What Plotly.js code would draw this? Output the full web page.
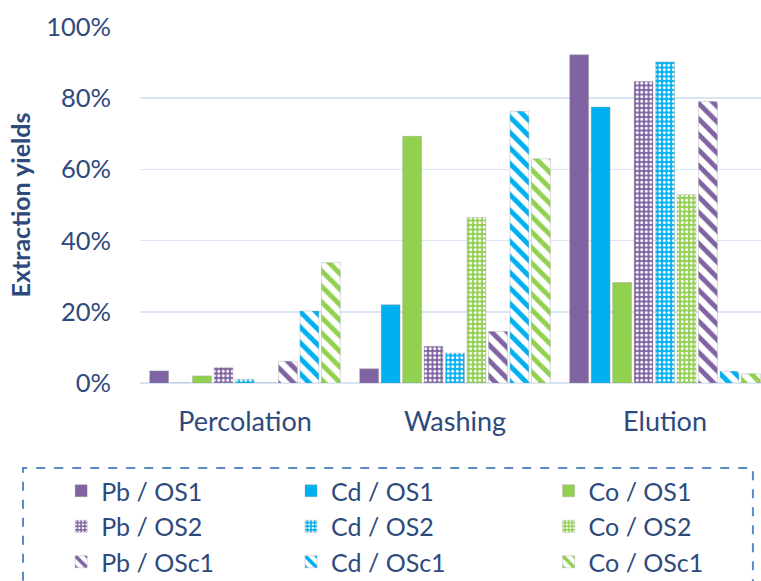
<!DOCTYPE html>
<html>
<head>
<meta charset="utf-8">
<script src="https://cdn.plot.ly/plotly-3.0.1.min.js"></script>
<style>html,body{margin:0;padding:0;background:#fff;}#chart{width:761px;height:581px;}</style>
</head>
<body>
<div id="chart"></div>
<script>
// Data (extraction yields, %)
const categories = ["Percolation", "Washing", "Elution"];
const seriesNames = ["Pb / OS1", "Cd / OS1", "Co / OS1", "Pb / OS2", "Cd / OS2", "Co / OS2", "Pb / OSc1", "Cd / OSc1", "Co / OSc1"];
const pbOS1  = [3.4, 4.0, 92.2];
const cdOS1  = [0.0, 22.0, 77.5];
const coOS1  = [2.0, 69.3, 28.2];
const pbOS2  = [4.3, 10.3, 84.7];
const cdOS2  = [1.0, 8.4, 90.2];
const coOS2  = [0.0, 46.5, 52.9];
const pbOSc1 = [6.1, 14.5, 79.1];
const cdOSc1 = [20.2, 76.3, 3.3];
const coOSc1 = [33.8, 63.0, 2.6];
const yTicks = [0, 20, 40, 60, 80, 100];
const yTickLabels = ["0%", "20%", "40%", "60%", "80%", "100%"];

const seriesValues = [pbOS1, cdOS1, coOS1, pbOS2, cdOS2, coOS2, pbOSc1, cdOSc1, coOSc1];
const metalColors = {Pb: "#8064A2", Cd: "#00B0F0", Co: "#92D050"};
const legendFor = {Pb: "legend", Cd: "legend2", Co: "legend3"};
const textColor = "#2E4A7D";
const font = "Lato, 'Open Sans', sans-serif";

const traces = seriesNames.map((name, i) => {
  const metal = name.split(" ")[0];
  const kind = name.split("/ ")[1];
  const col = metalColors[metal];
  let pattern;
  if (kind === "OS1") pattern = {shape: ""};
  else if (kind === "OS2") pattern = {shape: ".", fgcolor: "#ffffff", bgcolor: col, size: 4.5, solidity: 0.35, fillmode: "replace"};
  else pattern = {shape: "\\", fgcolor: col, bgcolor: "#ffffff", size: 11, solidity: 0.45, fillmode: "replace"};
  return {
    type: "bar",
    name: name,
    x: categories,
    y: seriesValues[i],
    legend: legendFor[metal],
    legendgroup: name,
    marker: {color: col, pattern: pattern, line: {color: "rgba(150,150,150,0.35)", width: 1}},
    hoverinfo: "skip"
  };
});

const legendCommon = {
  orientation: "v",
  xanchor: "left",
  yanchor: "top",
  y: -0.2388,
  bgcolor: "rgba(0,0,0,0)",
  tracegroupgap: 0,
  font: {family: font, size: 25, color: textColor},
  itemwidth: 30
};

const layout = {
  width: 761,
  height: 581,
  margin: {l: 140, r: 0, t: 27, b: 198, autoexpand: false},
  paper_bgcolor: "#ffffff",
  plot_bgcolor: "#ffffff",
  barmode: "group",
  bargap: 0.08,
  bargroupgap: 0.12,
  showlegend: true,
  xaxis: {
    type: "category",
    range: [-0.5, 2.457],
    showgrid: false,
    showline: false,
    zeroline: false,
    ticks: "",
    tickangle: 0,
    ticklabelstandoff: 20,
    tickfont: {family: font, size: 27, color: textColor}
  },
  yaxis: {
    range: [0, 100],
    tickvals: yTicks,
    ticktext: yTickLabels,
    showgrid: true,
    gridcolor: "#D9E4F4",
    gridwidth: 1.5,
    zeroline: true,
    zerolinecolor: "#D9E4F4",
    zerolinewidth: 1.5,
    showline: false,
    ticks: "",
    ticklabelstandoff: 28,
    tickfont: {family: font, size: 25.5, color: textColor},
    title: {text: "Extraction yields", standoff: 8, font: {family: font, size: 25, color: textColor, weight: "bold"}}
  },
  legend: Object.assign({}, legendCommon, {x: -0.127}),
  legend2: Object.assign({}, legendCommon, {x: 0.2432}),
  legend3: Object.assign({}, legendCommon, {x: 0.658}),
  shapes: [{
    type: "rect", xref: "paper", yref: "paper",
    x0: -0.1884, x1: 0.987, y0: -0.65, y1: -0.2388,
    line: {color: "#5A8AC6", width: 2, dash: "dash"},
    fillcolor: "rgba(0,0,0,0)"
  }]
};

Plotly.newPlot("chart", traces, layout, {displayModeBar: false, staticPlot: true});
</script>
</body>
</html>
